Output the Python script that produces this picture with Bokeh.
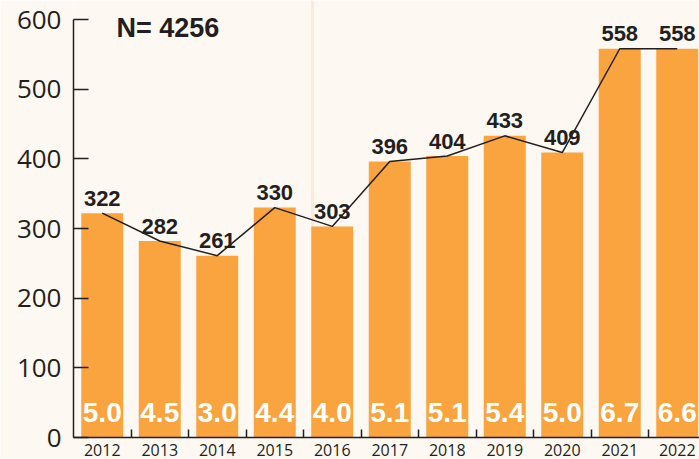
from bokeh.plotting import figure
from bokeh.models import Range1d, FixedTicker, ColumnDataSource, Label, Span
from bokeh.core.properties import value
from bokeh.embed import file_html
from bokeh.resources import INLINE

years = ["2012", "2013", "2014", "2015", "2016", "2017", "2018", "2019", "2020", "2021", "2022"]
counts = [322, 282, 261, 330, 303, 396, 404, 433, 409, 558, 558]
rates = ["5.0", "4.5", "3.0", "4.4", "4.0", "5.1", "5.1", "5.4", "5.0", "6.7", "6.6"]
total_label = "N= 4256"
y_ticks = [0, 100, 200, 300, 400, 500, 600]

BG = "#FDF8F1"
BAR = "#F9A43F"
INK = "#231F20"

W, H = 699, 459
left_b, bottom_b = 73, 22
frame_w = W - left_b
frame_h = H - bottom_b
cat_px = 57.5
px_per_unit = 418 / 600.0

centers = [i + 0.5 for i in range(len(years))]
zeros = [0] * len(years)

src = ColumnDataSource(dict(x=centers, top=counts, rate=rates, cnt=[str(c) for c in counts], zero=zeros))

p = figure(width=W, height=H, output_backend="svg", toolbar_location=None,
           x_range=Range1d(0, frame_w / cat_px),
           y_range=Range1d(0, 600 + 19 / px_per_unit),
           min_border_left=left_b, min_border_right=0, min_border_top=0, min_border_bottom=bottom_b)
p.background_fill_color = BG
p.border_fill_color = BG
p.outline_line_color = None
p.xgrid.visible = False
p.ygrid.visible = False

# decorative faint vertical line
p.add_layout(Span(location=(312 - 73) / cat_px, dimension="height", line_color="#FDEBDA", line_width=3, level="underlay"))

p.vbar(x="x", top="top", bottom=0, width=0.73, source=src, fill_color=BAR, line_color=None)
p.line(x="x", y="top", source=src, line_color=INK, line_width=1.5)

p.text(x="x", y="top", text="cnt", source=src, text_align="center", text_baseline="alphabetic",
       y_offset=-15, text_font=value("Liberation Sans"), text_font_style="bold", text_font_size="22px",
       text_color=INK)
p.text(x="x", y="zero", text="rate", source=src, text_align="center", text_baseline="alphabetic",
       y_offset=-25, text_font=value("Liberation Sans"), text_font_style="bold", text_font_size="28px",
       text_color="white")

p.add_layout(Label(x=43, y=410, x_units="screen", y_units="screen", text=total_label,
                   text_font="Liberation Sans", text_font_style="bold", text_font_size="27px",
                   text_color=INK, text_baseline="alphabetic"))

# y axis
ya = p.yaxis[0]
ya.ticker = FixedTicker(ticks=y_ticks)
ya.bounds = (0, 600)
ya.axis_line_color = INK
ya.axis_line_width = 1.5
ya.major_tick_in = 15
ya.major_tick_out = 0
ya.major_tick_line_color = INK
ya.major_tick_line_width = 1.5
ya.minor_tick_line_color = None
ya.major_label_text_font = "Open Sans"
ya.major_label_text_font_size = "26px"
ya.major_label_text_color = INK
ya.major_label_standoff = 12

# x axis
xa = p.xaxis[0]
xa.ticker = FixedTicker(ticks=centers, minor_ticks=[float(i) for i in range(1, len(years))])
xa.major_label_overrides = {c: y for c, y in zip(centers, years)}
xa.axis_line_color = INK
xa.axis_line_width = 1.5
xa.major_tick_in = 0
xa.major_tick_out = 0
xa.minor_tick_in = 8
xa.minor_tick_out = 0
xa.minor_tick_line_color = INK
xa.minor_tick_line_width = 1.5
xa.major_label_text_font = "Open Sans"
xa.major_label_text_font_size = "16px"
xa.major_label_text_color = INK
xa.major_label_standoff = 6

open("out.html", "w").write(file_html(p, INLINE))
